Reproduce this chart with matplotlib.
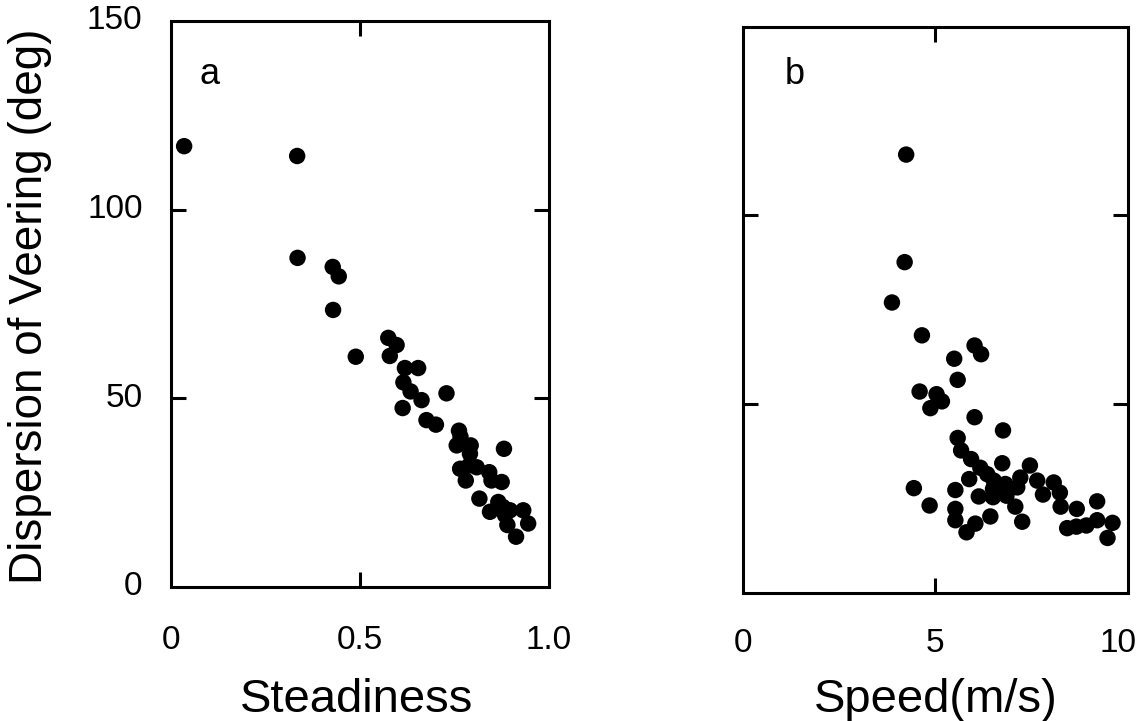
import matplotlib.pyplot as plt
from matplotlib.transforms import offset_copy

# panel a: steadiness vs dispersion of veering
steadiness = [0.035, 0.334, 0.335, 0.428, 0.444, 0.429, 0.489,
              0.575, 0.597, 0.579, 0.619, 0.654, 0.615, 0.634, 0.663, 0.613,
              0.729, 0.676, 0.701, 0.762, 0.766, 0.756, 0.793, 0.791, 0.765,
              0.789, 0.809, 0.780, 0.881, 0.842, 0.848, 0.875, 0.816, 0.844,
              0.866, 0.878, 0.897, 0.884, 0.932, 0.945, 0.890, 0.913]
veer_a = [116.8, 114.2, 87.2, 84.8, 82.3, 73.4, 61.0,
          66.0, 64.1, 61.2, 58.0, 58.0, 54.2, 51.8, 49.5, 47.4,
          51.3, 44.2, 43.0, 41.4, 39.8, 37.5, 37.5, 35.3, 31.3,
          32.2, 31.7, 28.2, 36.6, 30.4, 28.2, 27.8, 23.4, 19.9,
          22.5, 21.2, 20.3, 19.0, 20.3, 16.8, 16.4, 13.3]

# panel b: speed vs dispersion of veering
speed = [4.24, 4.20, 3.87, 4.65, 6.02, 6.19, 5.49, 5.58, 4.59, 5.03, 5.17,
         4.87, 6.02, 6.76, 5.58, 5.67, 5.93,
         4.44, 4.85, 5.52, 5.52, 5.52, 5.81, 6.04, 5.88, 6.17, 6.35, 6.52,
         6.74, 6.82, 6.50, 6.50, 6.13, 6.85, 6.43, 7.13, 7.21, 7.08, 7.26,
         7.46, 7.65, 7.80, 8.08, 8.24, 8.26, 8.68, 9.21, 8.43, 8.67, 8.93,
         9.21, 9.61, 9.48]
veer_b = [116.1, 87.6, 76.9, 68.2, 65.5, 63.2, 62.0, 56.4, 53.3, 52.6, 50.7,
          48.9, 46.5, 43.0, 41.0, 37.7, 35.4,
          27.7, 23.1, 27.2, 22.2, 19.2, 16.0, 18.3, 30.1, 33.1, 31.4, 29.7,
          34.3, 28.8, 27.5, 25.3, 25.5, 25.7, 20.2, 27.9, 30.5, 22.8, 18.8,
          33.7, 29.7, 26.0, 29.2, 26.5, 22.8, 22.2, 24.2, 17.1, 17.5, 17.8,
          19.2, 18.5, 14.5]

xticks_a = [0, 0.5, 1.0]
xlabels_a = ["0", "0.5", "1.0"]
xticks_b = [0, 5, 10]
xlabels_b = ["0", "5", "10"]
yticks = [0, 50, 100, 150]
ylabels = ["0", "50", "100", "150"]

plt.rcParams['font.family'] = ['Liberation Sans', 'DejaVu Sans']

fig = plt.figure(figsize=(11.47, 7.21), dpi=100)
ax_a = fig.add_axes([0.149, 0.186, 0.3296, 0.785])
ax_b = fig.add_axes([0.648, 0.178, 0.335, 0.785])


def style(ax, xt, xl, xmin, xmax, label_y, xlab_y, last_shift=0):
    ax.set_xlim(xmin, xmax)
    ax.set_ylim(0, 150)
    for s in ax.spines.values():
        s.set_linewidth(2.2)
    # inward marks only at the interior positions
    ax.set_xticks([xt[1]])
    ax.set_yticks([50, 100])
    ax.set_xticklabels([])
    ax.set_yticklabels([])
    ax.tick_params(direction='in', length=11, width=2.2,
                   top=True, bottom=True, left=True, right=True)
    # tick labels set well away from the frame
    for i, (v, t) in enumerate(zip(xt, xl)):
        tr = ax.get_xaxis_transform()
        if i == len(xt) - 1 and last_shift:
            tr = offset_copy(tr, fig=fig, x=last_shift, units='dots')
        ax.text(v, xlab_y, t, transform=tr,
                ha='center', va='center', fontsize=24)
    if label_y:
        for v, t in zip(yticks, ylabels):
            ax.text(-0.075, v, t, transform=ax.get_yaxis_transform(),
                    ha='right', va='center', fontsize=24)


ax_a.scatter(steadiness, veer_a, s=140, color='black', edgecolors='none')
style(ax_a, xticks_a, xlabels_a, 0, 1.0, True, -0.094)
ax_a.text(0.103, 0.905, "a", transform=ax_a.transAxes, fontsize=26,
          ha='center', va='center')
ax_a.text(0.49, -0.2, "Steadiness", transform=ax_a.transAxes,
          fontsize=34, ha='center', va='center')

ax_b.scatter(speed, veer_b, s=140, color='black', edgecolors='none')
style(ax_b, xticks_b, xlabels_b, 0, 10, False, -0.09, last_shift=-10)
ax_b.text(0.135, 0.915, "b", transform=ax_b.transAxes, fontsize=26,
          ha='center', va='center')
ax_b.text(0.5, -0.19, "Speed(m/s)", transform=ax_b.transAxes,
          fontsize=34, ha='center', va='center')

fig.text(30 / 1147, 0.575, "Dispersion of Veering (deg)", rotation=90,
         fontsize=33, ha='center', va='center')

fig.savefig("out.png", dpi=100)
